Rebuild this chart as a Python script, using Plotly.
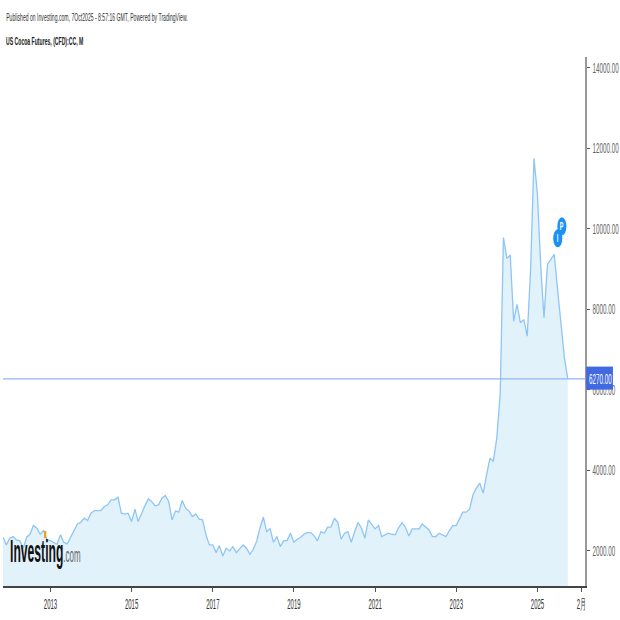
import plotly.graph_objects as go
import pandas as pd

START = "2011-11-01"
prices = [
 2340,2149,2315,2356,2273,2249,2066,2340,2414,2630,2564,2414,2506,2273,2257,
 2215,2166,2398,2215,2174,2340,2506,2671,2713,2812,2754,2937,3003,3003,3003,
 3103,3144,3268,3268,3335,2937,2912,2937,2729,3036,2729,2937,3119,3293,3227,
 3119,3144,3310,3376,3227,2771,2995,2962,3252,3061,2995,2854,2920,2788,2771,
 2398,2149,2149,1958,2132,1875,2066,2000,2108,1958,2050,2149,2066,1917,2041,
 2249,2564,2837,2481,2555,2215,2356,2108,2257,2257,2439,2215,2290,2332,
 2414,2456,2456,2381,2249,2481,2439,2589,2589,2812,2705,2290,2439,2481,2215,
 2481,2705,2564,2315,2771,2647,2547,2630,2356,2398,2439,2414,2398,2580,2705,
 2589,2373,2547,2555,2547,2671,2605,2522,2356,2356,2439,2398,2356,2506,2630,
 2630,2812,2962,2962,3036,3393,3559,3683,3434,3890,4305,4222,4800,5900,9780,
 9264,9347,7705,8119,7663,7746,7332,9030,11750,10850,8990,7788,9115,9240,9363,
 8490,7580,6793,6270,
]
dates = pd.date_range(START, periods=len(prices), freq="MS").strftime("%Y-%m-%d").tolist()

tick_dates = ["2013-01-01","2015-01-01","2017-01-01","2019-01-01","2021-01-01","2023-01-01","2025-01-01","2026-02-01"]
tick_labels = ["2013","2015","2017","2019","2021","2023","2025","2月"]
y_ticks = [2000,4000,6000,8000,10000,12000,14000]
y_labels = ["2000.00","4000.00","6000.00","8000.00","10000.00","12000.00","14000.00"]
last_price = 6270
last_label = "6270.00"
title_line = "Published on Investing.com, 7Oct2025 - 8:57:16 GMT, Powered by TradingView."
symbol_line = "US Cocoa Futures, (CFD):CC, M"

FONT = "Liberation Sans, Arial, sans-serif"
W = H = 620

fig = go.Figure()
fig.add_trace(go.Scatter(x=dates, y=prices, mode="lines",
    line=dict(color="#8fc5f5", width=1.3), fill="tozeroy", fillcolor="#e1f2fb",
    hoverinfo="skip", showlegend=False))

fig.update_layout(
    width=W, height=H, autosize=False, paper_bgcolor="white", plot_bgcolor="white",
    margin=dict(l=3, r=35, t=57, b=34, pad=0), showlegend=False,
    font=dict(family=FONT, color="#444"),
    xaxis=dict(type="date", range=["2011-11-01","2026-03-05"], tickmode="array", automargin=False,
        tickvals=tick_dates, ticktext=tick_labels, showgrid=False, zeroline=False,
        ticks="outside", ticklen=4, tickcolor="#555", showline=True, linecolor="#444", linewidth=2,
        tickfont=dict(size=14, color="#333", family=FONT)),
    yaxis=dict(side="right", range=[1129,14264], tickmode="array", tickvals=y_ticks, automargin=False,
        ticktext=y_labels, showgrid=False, zeroline=False, ticks="outside", ticklen=3,
        tickcolor="#555", showline=True, linecolor="#999", linewidth=1.5,
        tickfont=dict(size=14, color="#666", family=FONT)),
)

# last price line and label box
fig.add_shape(type="line", xref="paper", x0=0, x1=1, yref="y", y0=last_price, y1=last_price,
              line=dict(color="#93b3f2", width=1.2))
fig.add_shape(type="rect", xref="paper", x0=1.002, x1=1.048, yref="y", y0=6005, y1=6577,
              fillcolor="#4169e1", line=dict(width=0))
fig.add_annotation(xref="paper", x=1, xanchor="center", xshift=15, yref="y", y=last_price, yanchor="middle",
    text=last_label, showarrow=False, font=dict(size=14, color="white", family=FONT))

# event markers
for x0, x1, y0, y1, label in [
    ("2025-05-23","2025-08-13",9538,9985,"I"),
    ("2025-06-29","2025-09-19",9836,10284,"P"),
]:
    fig.add_shape(type="circle", xref="x", yref="y", x0=x0, x1=x1, y0=y0, y1=y1,
                  fillcolor="#1c90f3", line=dict(width=0))
    mid = pd.Timestamp(x0) + (pd.Timestamp(x1)-pd.Timestamp(x0))/2
    fig.add_annotation(x=mid.strftime("%Y-%m-%d"), y=(y0+y1)/2, text="<b>%s</b>"%label, showarrow=False,
                       font=dict(size=11, color="white", family=FONT))

# header text
fig.add_annotation(xref="paper", yref="paper", x=0, xshift=1, xanchor="left", y=1, yshift=40, yanchor="middle",
    text=title_line, showarrow=False, font=dict(size=11, color="#333", family=FONT))
fig.add_annotation(xref="paper", yref="paper", x=0, xshift=1, xanchor="left", y=1, yshift=16, yanchor="middle",
    text="<b>%s</b>"%symbol_line, showarrow=False, font=dict(size=11, color="#222", family=FONT))

# logo
fig.add_annotation(xref="paper", yref="paper", x=0, xshift=5, xanchor="left", y=0, yshift=35, yanchor="middle",
    text='<b>Investing</b><span style="font-size:21px;color:#666">.com</span>', showarrow=False,
    font=dict(size=32, color="#111", family=FONT))
fig.add_shape(type="rect", xref="paper", yref="paper", x0=0.0705, x1=0.0745, y0=0.0905, y1=0.104,
              fillcolor="#f2a01e", line=dict(width=0))

# The reference's text is horizontally condensed; no condensed face is installed,
# so each text is narrowed in place while staying real text.
post = r"""
document.body.style.margin='0';
var gd=document.querySelector('.js-plotly-plot');
function squeeze(t,k,left){
  var b=t.getBBox(), c=left?b.x:b.x+b.width/2, o=t.getAttribute('transform')||'';
  t.setAttribute('transform',o+' translate('+c+',0) scale('+k+',1) translate('+(-c)+',0)');
}
gd.querySelectorAll('.ytick text').forEach(function(t){squeeze(t,0.45,true);});
gd.querySelectorAll('.xtick text').forEach(function(t){squeeze(t,0.43,false);});
gd.querySelectorAll('.annotation-text').forEach(function(t){
  var s=t.textContent;
  if(s.indexOf('Investing.com')===0) squeeze(t,0.38,true);
  else if(s.indexOf('Published')===0||s.indexOf('US Cocoa')===0) squeeze(t,0.465,true);
  else if(s===('6270.00')) squeeze(t,0.45,false);
  else squeeze(t,0.5,false);
});
"""
fig.write_html("out.html", post_script=post, config={"displayModeBar": False})
